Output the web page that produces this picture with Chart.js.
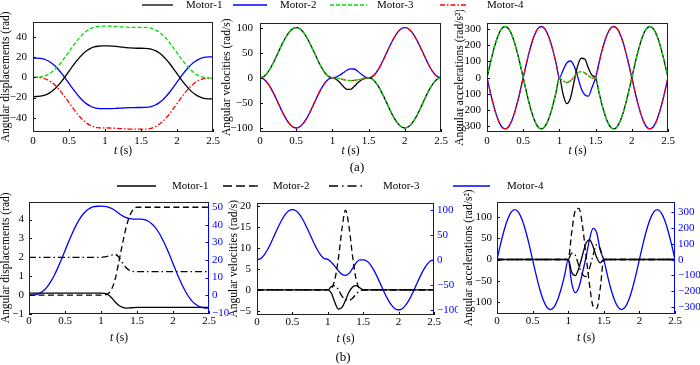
<!DOCTYPE html>
<html lang="en">
<head>
<meta charset="UTF-8">
<title>Motor trajectories</title>
<style>
  body { margin: 0; background: #fff; font-family: "Liberation Serif", "Times New Roman", serif; }
  #fig { position: relative; width: 700px; height: 365px; overflow: hidden; }
  .box { position: absolute; }
  .lbl { position: absolute; font-size: 13px; transform: translate(-50%, -50%); }
  #legend { position: absolute; left: 0; top: 0; pointer-events: none; }
</style>
</head>
<body>
<div id="fig">
  <div class="box" style="left:0;top:9px;width:224px;height:147px"><canvas id="c1"></canvas></div>
  <div class="box" style="left:221px;top:9px;width:231px;height:147px"><canvas id="c2"></canvas></div>
  <div class="box" style="left:454px;top:10px;width:225px;height:146px"><canvas id="c3"></canvas></div>
  <div class="box" style="left:0;top:190px;width:236px;height:154px"><canvas id="c4"></canvas></div>
  <div class="box" style="left:463px;top:190px;width:237px;height:154px"><canvas id="c6"></canvas></div>
  <div class="box" style="left:228px;top:190px;width:245px;height:155px"><canvas id="c5"></canvas></div>
  <svg id="legend" width="700" height="365"></svg>
  <div class="lbl" style="left:357px;top:167px">(a)</div>
  <div class="lbl" style="left:343px;top:357px">(b)</div>
</div>

<script src="https://cdn.jsdelivr.net/npm/chart.js"></script>
<script>
// time samples (s)
const times = [0, 0.05, 0.1, 0.15, 0.2, 0.25, 0.3, 0.35, 0.4, 0.45, 0.5, 0.55, 0.6, 0.65, 0.7, 0.75, 0.8, 0.85, 0.9, 0.95, 1,
  1.05, 1.1, 1.15, 1.2, 1.25, 1.3, 1.35, 1.4, 1.45,
  1.5, 1.55, 1.6, 1.65, 1.7, 1.75, 1.8, 1.85, 1.9, 1.95, 2, 2.05, 2.1, 2.15, 2.2, 2.25, 2.3, 2.35, 2.4, 2.45, 2.5];

const motorNames = ['Motor-1', 'Motor-2', 'Motor-3', 'Motor-4'];

// tick labels
const timeTicks = [0, 0.5, 1, 1.5, 2, 2.5];
const dispTicks = [-40, -20, 0, 20, 40];
const velTicks = [-100, -50, 0, 50, 100];
const accTicks = [-300, -200, -100, 0, 100, 200, 300];
const bDispTicks = [-1, 0, 1, 2, 3, 4];
const bDispTicksR = [-10, 0, 10, 20, 30, 40, 50];
const bVelTicks = [-5, 0, 5, 10, 15, 20];
const bVelTicksR = [-100, -50, 0, 50, 100];
const bAccTicks = [-100, -50, 0, 50, 100];
const bAccTicksR = [-300, -200, -100, 0, 100, 200, 300];

// (a) angular displacements (rad)
const dispM1 = [-19, -18.96, -18.68, -17.94, -16.57, -14.46, -11.57, -7.94, -3.68, 1.04, 6, 10.96, 15.68, 19.94, 23.57, 26.46, 28.57, 29.94, 30.68, 30.96, 31,
  30.95, 30.8, 30.5, 30.1, 29.7, 29.3, 29.0, 28.8, 28.7,
  28.7, 28.66, 28.38, 27.64, 26.27, 24.16, 21.27, 17.64, 13.38, 8.66, 3.7, -1.26, -5.98, -10.24, -13.87, -16.76, -18.87, -20.24, -20.98, -21.26, -21.3];
const dispM2 = [19, 18.96, 18.68, 17.94, 16.57, 14.46, 11.57, 7.94, 3.68, -1.04, -6, -10.96, -15.68, -19.94, -23.57, -26.46, -28.57, -29.94, -30.68, -30.96, -31,
  -30.95, -30.85, -30.7, -30.5, -30.3, -30.1, -29.95, -29.85, -29.8,
  -29.8, -29.76, -29.48, -28.74, -27.37, -25.26, -22.37, -18.74, -14.48, -9.76, -4.8, 0.16, 4.88, 9.14, 12.77, 15.66, 17.77, 19.14, 19.88, 20.16, 20.2];
const dispM3 = [0, 0.04, 0.32, 1.07, 2.45, 4.59, 7.5, 11.17, 15.47, 20.24, 25.25, 30.26, 35.03, 39.33, 43.0, 45.9, 48.05, 49.43, 50.18, 50.46, 50.5,
  50.48, 50.4, 50.2, 49.95, 49.7, 49.5, 49.35, 49.3, 49.27,
  49.25, 49.21, 48.93, 48.19, 46.82, 44.71, 41.82, 38.19, 33.93, 29.21, 24.25, 19.29, 14.57, 10.31, 6.68, 3.79, 1.68, 0.31, -0.43, -0.71, -0.75];
const dispM4 = [0, -0.04, -0.32, -1.06, -2.43, -4.54, -7.43, -11.06, -15.32, -20.04, -25, -29.96, -34.68, -38.94, -42.57, -45.46, -47.57, -48.94, -49.68, -49.96, -50,
  -50.05, -50.15, -50.35, -50.6, -50.8, -51.0, -51.1, -51.2, -51.2,
  -51.2, -51.16, -50.88, -50.13, -48.75, -46.61, -43.7, -40.03, -35.73, -30.96, -25.95, -20.94, -16.17, -11.87, -8.2, -5.29, -3.15, -1.77, -1.02, -0.74, -0.7];

// (a) angular velocities (rad/s)
const velM1 = [0, 2.4, 9.5, 20.6, 34.5, 50, 65.5, 79.4, 90.5, 97.6, 100, 97.6, 90.5, 79.4, 65.5, 50, 34.5, 20.6, 9.5, 2.4, 0,
  -3, -9, -17, -23, -23, -17.5, -10, -4.5, -1.2,
  0, -2.4, -9.5, -20.6, -34.5, -50, -65.5, -79.4, -90.5, -97.6, -100, -97.6, -90.5, -79.4, -65.5, -50, -34.5, -20.6, -9.5, -2.4, 0];
const velM2 = [0, -2.4, -9.5, -20.6, -34.5, -50, -65.5, -79.4, -90.5, -97.6, -100, -97.6, -90.5, -79.4, -65.5, -50, -34.5, -20.6, -9.5, -2.4, 0,
  1.5, 5, 10, 15, 17.8, 17.5, 13, 7, 2,
  0, 2.4, 9.5, 20.6, 34.5, 50, 65.5, 79.4, 90.5, 97.6, 100, 97.6, 90.5, 79.4, 65.5, 50, 34.5, 20.6, 9.5, 2.4, 0];
const velM3 = [0, 2.4, 9.5, 20.6, 34.5, 50, 65.5, 79.4, 90.5, 97.6, 100, 97.6, 90.5, 79.4, 65.5, 50, 34.5, 20.6, 9.5, 2.4, 0,
  -0.5, -1.8, -3.5, -4.8, -5.5, -5.2, -4.0, -2.4, -0.9,
  0, -2.4, -9.5, -20.6, -34.5, -50, -65.5, -79.4, -90.5, -97.6, -100, -97.6, -90.5, -79.4, -65.5, -50, -34.5, -20.6, -9.5, -2.4, 0];
const velM4 = [0, -2.4, -9.5, -20.6, -34.5, -50, -65.5, -79.4, -90.5, -97.6, -100, -97.6, -90.5, -79.4, -65.5, -50, -34.5, -20.6, -9.5, -2.4, 0,
  -0.5, -1.8, -3.5, -4.8, -5.5, -5.2, -4.0, -2.4, -0.9,
  0, 2.4, 9.5, 20.6, 34.5, 50, 65.5, 79.4, 90.5, 97.6, 100, 97.6, 90.5, 79.4, 65.5, 50, 34.5, 20.6, 9.5, 2.4, 0];

// (a) angular accelerations (rad/s^2)
const accM1 = [0, 98, 186, 256, 301, 316, 301, 256, 186, 98, 0, -98, -186, -256, -301, -316, -301, -256, -186, -98, 0,
  -100, -160, -130, -30, 70, 120, 115, 60, 15,
  0, -98, -186, -256, -301, -316, -301, -256, -186, -98, 0, 98, 186, 256, 301, 316, 301, 256, 186, 98, 0];
const accM2 = [0, -98, -186, -256, -301, -316, -301, -256, -186, -98, 0, 98, 186, 256, 301, 316, 301, 256, 186, 98, 0,
  45, 90, 103, 75, 10, -65, -105, -114, -60,
  0, 98, 186, 256, 301, 316, 301, 256, 186, 98, 0, -98, -186, -256, -301, -316, -301, -256, -186, -98, 0];
const accM3 = [0, 98, 186, 256, 301, 316, 301, 256, 186, 98, 0, -98, -186, -256, -301, -316, -301, -256, -186, -98, 0,
  -18, -30, -20, 5, 30, 38, 30, 12, -2,
  0, -98, -186, -256, -301, -316, -301, -256, -186, -98, 0, 98, 186, 256, 301, 316, 301, 256, 186, 98, 0];
const accM4 = [0, -98, -186, -256, -301, -316, -301, -256, -186, -98, 0, 98, 186, 256, 301, 316, 301, 256, 186, 98, 0,
  -18, -30, -20, 5, 30, 38, 30, 12, -2,
  0, 98, 186, 256, 301, 316, 301, 256, 186, 98, 0, -98, -186, -256, -301, -316, -301, -256, -186, -98, 0];

// (b) angular displacements (rad), Motor-4 on right axis
const bDispM1 = [0.1, 0.1, 0.1, 0.1, 0.1, 0.1, 0.1, 0.1, 0.1, 0.1, 0.1, 0.1, 0.1, 0.1, 0.1, 0.1, 0.1, 0.1, 0.1, 0.1, 0.1,
  0.09, 0.02, -0.15, -0.38, -0.55, -0.65, -0.69, -0.68, -0.66,
  -0.65, -0.65, -0.65, -0.65, -0.65, -0.65, -0.65, -0.65, -0.65, -0.65, -0.65, -0.65, -0.65, -0.65, -0.65, -0.65, -0.65, -0.65, -0.65, -0.65, -0.65];
const bDispM2 = [0, 0, 0, 0, 0, 0, 0, 0, 0, 0, 0, 0, 0, 0, 0, 0, 0, 0, 0, 0, 0,
  0.01, 0.08, 0.33, 0.9, 1.8, 2.75, 3.6, 4.2, 4.55,
  4.65, 4.65, 4.65, 4.65, 4.65, 4.65, 4.65, 4.65, 4.65, 4.65, 4.65, 4.65, 4.65, 4.65, 4.65, 4.65, 4.65, 4.65, 4.65, 4.65, 4.65];
const bDispM3 = [2, 2, 2, 2, 2, 2, 2, 2, 2, 2, 2, 2, 2, 2, 2, 2, 2, 2, 2, 2, 2,
  2.02, 2.06, 2.12, 2.15, 2.0, 1.7, 1.45, 1.3, 1.25,
  1.24, 1.24, 1.24, 1.24, 1.24, 1.24, 1.24, 1.24, 1.24, 1.24, 1.24, 1.24, 1.24, 1.24, 1.24, 1.24, 1.24, 1.24, 1.24, 1.24, 1.24];
const bDispM4 = [0, 0.04, 0.32, 1.07, 2.45, 4.59, 7.5, 11.17, 15.47, 20.24, 25.25, 30.26, 35.03, 39.33, 43.0, 45.9, 48.05, 49.43, 50.18, 50.46, 50.5,
  50.4, 50.0, 49.2, 47.9, 46.4, 45.0, 44.0, 43.4, 43.2,
  43.2, 43.16, 42.9, 42.1, 40.7, 38.6, 35.7, 32.0, 27.7, 23.0, 17.9, 12.9, 8.2, 3.9, 0.2, -2.7, -4.8, -6.2, -7.0, -7.3, -7.3];

// (b) angular velocities (rad/s), Motor-4 on right axis
const bVelM1 = [0, 0, 0, 0, 0, 0, 0, 0, 0, 0, 0, 0, 0, 0, 0, 0, 0, 0, 0, 0, 0,
  -0.8, -3, -4.6, -4.2, -2.5, -0.5, 0.7, 1.0, 0.5,
  0, 0, 0, 0, 0, 0, 0, 0, 0, 0, 0, 0, 0, 0, 0, 0, 0, 0, 0, 0, 0];
const bVelM2 = [0, 0, 0, 0, 0, 0, 0, 0, 0, 0, 0, 0, 0, 0, 0, 0, 0, 0, 0, 0, 0,
  0.3, 2.5, 7.5, 14.5, 19, 15, 8, 2.5, 0.3,
  0, 0, 0, 0, 0, 0, 0, 0, 0, 0, 0, 0, 0, 0, 0, 0, 0, 0, 0, 0, 0];
const bVelM3 = [0, 0, 0, 0, 0, 0, 0, 0, 0, 0, 0, 0, 0, 0, 0, 0, 0, 0, 0, 0, 0,
  0.8, 1.0, 0, -1.5, -2.3, -2.5, -2.0, -1.0, -0.3,
  0, 0, 0, 0, 0, 0, 0, 0, 0, 0, 0, 0, 0, 0, 0, 0, 0, 0, 0, 0, 0];
const bVelM4 = [0, 2.4, 9.5, 20.6, 34.5, 50, 65.5, 79.4, 90.5, 97.6, 100, 97.6, 90.5, 79.4, 65.5, 50, 34.5, 20.6, 9.5, 2.4, 1,
  -5, -13, -22, -29, -31, -27, -17, -6, 0,
  0, -2.4, -9.5, -20.6, -34.5, -50, -65.5, -79.4, -90.5, -97.6, -100, -97.6, -90.5, -79.4, -65.5, -50, -34.5, -20.6, -9.5, -2.4, 0];

// (b) angular accelerations (rad/s^2), Motor-4 on right axis
const bAccM1 = [0, 0, 0, 0, 0, 0, 0, 0, 0, 0, 0, 0, 0, 0, 0, 0, 0, 0, 0, 0, 0,
  -30, -38, -20, 10, 38, 46, 30, 5, -8,
  0, 0, 0, 0, 0, 0, 0, 0, 0, 0, 0, 0, 0, 0, 0, 0, 0, 0, 0, 0, 0];
const bAccM2 = [0, 0, 0, 0, 0, 0, 0, 0, 0, 0, 0, 0, 0, 0, 0, 0, 0, 0, 0, 0, 0,
  65, 115, 120, 80, 10, -60, -110, -115, -68,
  0, 0, 0, 0, 0, 0, 0, 0, 0, 0, 0, 0, 0, 0, 0, 0, 0, 0, 0, 0, 0];
const bAccM3 = [0, 0, 0, 0, 0, 0, 0, 0, 0, 0, 0, 0, 0, 0, 0, 0, 0, 0, 0, 0, 0,
  15, 10, -15, -35, -40, -20, 10, 35, 25,
  0, 0, 0, 0, 0, 0, 0, 0, 0, 0, 0, 0, 0, 0, 0, 0, 0, 0, 0, 0, 0];
const bAccM4 = [0, 98, 186, 256, 301, 316, 301, 256, 186, 98, 0, -98, -186, -256, -301, -316, -301, -256, -186, -98, 0,
  -150, -209, -175, -85, 15, 130, 197, 170, 60,
  0, -98, -186, -256, -301, -316, -301, -256, -186, -98, 0, 98, 186, 256, 301, 316, 301, 256, 186, 98, 0];

const FONT = '"Liberation Serif", "Times New Roman", serif';
const BLUE = '#0000ff';
Chart.defaults.font.family = FONT;
Chart.defaults.font.size = 11;
Chart.defaults.color = '#000';

// line styles per motor
const topStyle = [
  { color: '#000000', dash: [] },
  { color: BLUE, dash: [] },
  { color: '#00dd00', dash: [4, 2] },
  { color: '#ff0000', dash: [5, 2, 1.5, 2] }
];
const botStyle = [
  { color: '#000000', dash: [] },
  { color: '#000000', dash: [6, 3.5] },
  { color: '#000000', dash: [7, 3, 1.5, 3] },
  { color: BLUE, dash: [] }
];

const fmt = v => (v < 0 ? '\u2212' + Math.abs(v) : String(v));

function series(values, style, axis, order) {
  return {
    data: times.map((t, i) => ({ x: t, y: values[i] })),
    borderColor: style.color,
    borderDash: style.dash,
    borderWidth: 1.3,
    pointRadius: 0,
    cubicInterpolationMode: 'monotone',
    yAxisID: axis,
    order: order,
    fill: false
  };
}

function yAxis(pos, o) {
  return {
    type: 'linear', position: pos, min: o.min, max: o.max,
    afterBuildTicks: s => { s.ticks = o.ticks.map(v => ({ value: v })); },
    afterFit: s => { s.width = o.width; },
    grid: { display: false, drawTicks: false }, border: { display: false },
    ticks: { padding: o.pad, color: o.color || '#000', autoSkip: false, callback: fmt },
    title: { display: !!o.title, text: o.title, padding: 0, font: { size: 11.5, lineHeight: 1 }, color: '#000' }
  };
}

// frame, inward ticks and the italic x title
const framePlugin = {
  id: 'frame',
  afterDraw(chart, args, opts) {
    const { ctx, chartArea: a, scales } = chart;
    ctx.save();
    ctx.lineWidth = 1;
    ctx.strokeStyle = '#000';
    ctx.beginPath();
    scales.x.ticks.forEach(t => {
      const px = Math.round(scales.x.getPixelForValue(t.value)) + 0.5;
      ctx.moveTo(px, a.bottom); ctx.lineTo(px, a.bottom - 3);
    });
    scales.y.ticks.forEach(t => {
      const py = Math.round(scales.y.getPixelForValue(t.value)) + 0.5;
      ctx.moveTo(a.left, py); ctx.lineTo(a.left + 3, py);
    });
    ctx.stroke();
    ctx.strokeStyle = '#222';
    ctx.strokeRect(Math.round(a.left) + 0.5, Math.round(a.top) + 0.5, Math.round(a.width) - 1, Math.round(a.height) - 1);
    if (scales.y2) {
      ctx.strokeStyle = BLUE;
      ctx.beginPath();
      const rx = Math.round(a.right) - 0.5;
      ctx.moveTo(rx, a.top + 1); ctx.lineTo(rx, a.bottom);
      scales.y2.ticks.forEach(t => {
        const py = Math.round(scales.y2.getPixelForValue(t.value)) + 0.5;
        ctx.moveTo(rx, py); ctx.lineTo(rx - 3, py);
      });
      ctx.stroke();
    }
    const cx = (a.left + a.right) / 2, ty = a.bottom + opts.titleGap;
    ctx.font = 'italic 11.5px ' + FONT;
    const w1 = ctx.measureText('t').width;
    ctx.font = '11.5px ' + FONT;
    const w2 = ctx.measureText(' (s)').width;
    const x0 = cx - (w1 + w2) / 2;
    ctx.fillStyle = '#000';
    ctx.textBaseline = 'middle';
    ctx.textAlign = 'left';
    ctx.font = 'italic 11.5px ' + FONT;
    ctx.fillText('t', x0, ty);
    ctx.font = '11.5px ' + FONT;
    ctx.fillText(' (s)', x0 + w1, ty);
    ctx.restore();
  }
};

function makeChart(id, cfg) {
  const scales = {
    x: {
      type: 'linear', min: 0, max: 2.5,
      afterBuildTicks: s => { s.ticks = timeTicks.map(v => ({ value: v })); },
      afterFit: s => { s.height = cfg.xHeight; },
      grid: { display: false, drawTicks: false }, border: { display: false },
      ticks: { padding: cfg.xPad, maxRotation: 0, autoSkip: false, callback: fmt }
    },
    y: yAxis('left', cfg.y)
  };
  if (cfg.y2) scales.y2 = yAxis('right', cfg.y2);
  return new Chart(document.getElementById(id), {
    type: 'line',
    data: { datasets: cfg.datasets },
    options: {
      responsive: true, maintainAspectRatio: false, animation: false,
      layout: { padding: { top: 10, right: cfg.padRight, left: 0, bottom: 0 } },
      plugins: { legend: { display: false }, tooltip: { enabled: false }, frame: { titleGap: cfg.titleGap } },
      scales
    },
    plugins: [framePlugin]
  });
}

// (a) top row
makeChart('c1', {
  xHeight: 24, xPad: 3, titleGap: 18.7, padRight: 11,
  y: { min: -54, max: 55, ticks: dispTicks, width: 33, pad: 6, title: 'Angular displacements (rad)' },
  datasets: [series(dispM1, topStyle[0], 'y', 1), series(dispM2, topStyle[1], 'y', 1),
             series(dispM3, topStyle[2], 'y', 0), series(dispM4, topStyle[3], 'y', 0)]
});
makeChart('c2', {
  xHeight: 24, xPad: 3, titleGap: 18.7, padRight: 11,
  y: { min: -108, max: 110, ticks: velTicks, width: 39, pad: 7, title: 'Angular velocities (rad/s)' },
  datasets: [series(velM1, topStyle[0], 'y', 1), series(velM2, topStyle[1], 'y', 1),
             series(velM3, topStyle[2], 'y', 0), series(velM4, topStyle[3], 'y', 0)]
});
makeChart('c3', {
  xHeight: 24, xPad: 3, titleGap: 18.7, padRight: 11,
  y: { min: -335, max: 340, ticks: accTicks, width: 33, pad: 6, title: 'Angular accelerations (rad/s\u00B2)' },
  datasets: [series(accM1, topStyle[0], 'y', 1), series(accM2, topStyle[1], 'y', 1),
             series(accM3, topStyle[2], 'y', 0), series(accM4, topStyle[3], 'y', 0)]
});

// (b) bottom row
makeChart('c4', {
  xHeight: 30, xPad: 1, titleGap: 24.2, padRight: 5,
  y: { min: -1, max: 4.95, ticks: bDispTicks, width: 29, pad: 5, title: 'Angular displacements (rad)' },
  y2: { min: -10.72, max: 53.1, ticks: bDispTicksR, width: 22, pad: 3, color: BLUE },
  datasets: [series(bDispM1, botStyle[0], 'y', 0), series(bDispM2, botStyle[1], 'y', 0),
             series(bDispM3, botStyle[2], 'y', 0), series(bDispM4, botStyle[3], 'y2', 1)]
});
makeChart('c5', {
  xHeight: 30, xPad: 1, titleGap: 24.2, padRight: 15,
  y: { min: -6, max: 20.8, ticks: bVelTicks, width: 29, pad: 6, title: 'Angular velocities (rad/s)' },
  y2: { min: -110, max: 114, ticks: bVelTicksR, width: 24, pad: 3, color: BLUE },
  datasets: [series(bVelM1, botStyle[0], 'y', 0), series(bVelM2, botStyle[1], 'y', 0),
             series(bVelM3, botStyle[2], 'y', 0), series(bVelM4, botStyle[3], 'y2', 1)]
});
makeChart('c6', {
  xHeight: 30, xPad: 1, titleGap: 24.2, padRight: 0,
  y: { min: -128, max: 136, ticks: bAccTicks, width: 34, pad: 5, title: 'Angular accelerations (rad/s\u00B2)' },
  y2: { min: -344, max: 367, ticks: bAccTicksR, width: 25, pad: 3, color: BLUE },
  datasets: [series(bAccM1, botStyle[0], 'y', 0), series(bAccM2, botStyle[1], 'y', 0),
             series(bAccM3, botStyle[2], 'y', 0), series(bAccM4, botStyle[3], 'y2', 1)]
});

// legends
const SVGNS = 'http://www.w3.org/2000/svg';
const legendSvg = document.getElementById('legend');
function legendRow(y, spots, styles) {
  motorNames.forEach((name, i) => {
    const s = spots[i];
    const ln = document.createElementNS(SVGNS, 'line');
    ln.setAttribute('x1', s[0]); ln.setAttribute('x2', s[1]);
    ln.setAttribute('y1', y); ln.setAttribute('y2', y);
    ln.setAttribute('stroke', styles[i].color);
    ln.setAttribute('stroke-width', 1.3);
    if (styles[i].dash.length) ln.setAttribute('stroke-dasharray', styles[i].dash.join(' '));
    legendSvg.appendChild(ln);
    const tx = document.createElementNS(SVGNS, 'text');
    tx.setAttribute('x', s[2]); tx.setAttribute('y', y + 0.5);
    tx.setAttribute('dominant-baseline', 'middle');
    tx.setAttribute('font-family', '"Liberation Serif", serif');
    tx.setAttribute('font-size', '11');
    tx.textContent = name;
    legendSvg.appendChild(tx);
  });
}
legendRow(5, [[142, 173, 186], [233, 267, 280], [330, 367, 377], [440, 467, 487]], topStyle);
legendRow(186, [[117, 156, 172], [223, 258, 273], [329, 362, 383], [453, 490, 507]],
  [botStyle[0], { color: '#000', dash: [9, 4] }, { color: '#000', dash: [9, 4, 1.5, 4] }, botStyle[3]]);
</script>
</body>
</html>
